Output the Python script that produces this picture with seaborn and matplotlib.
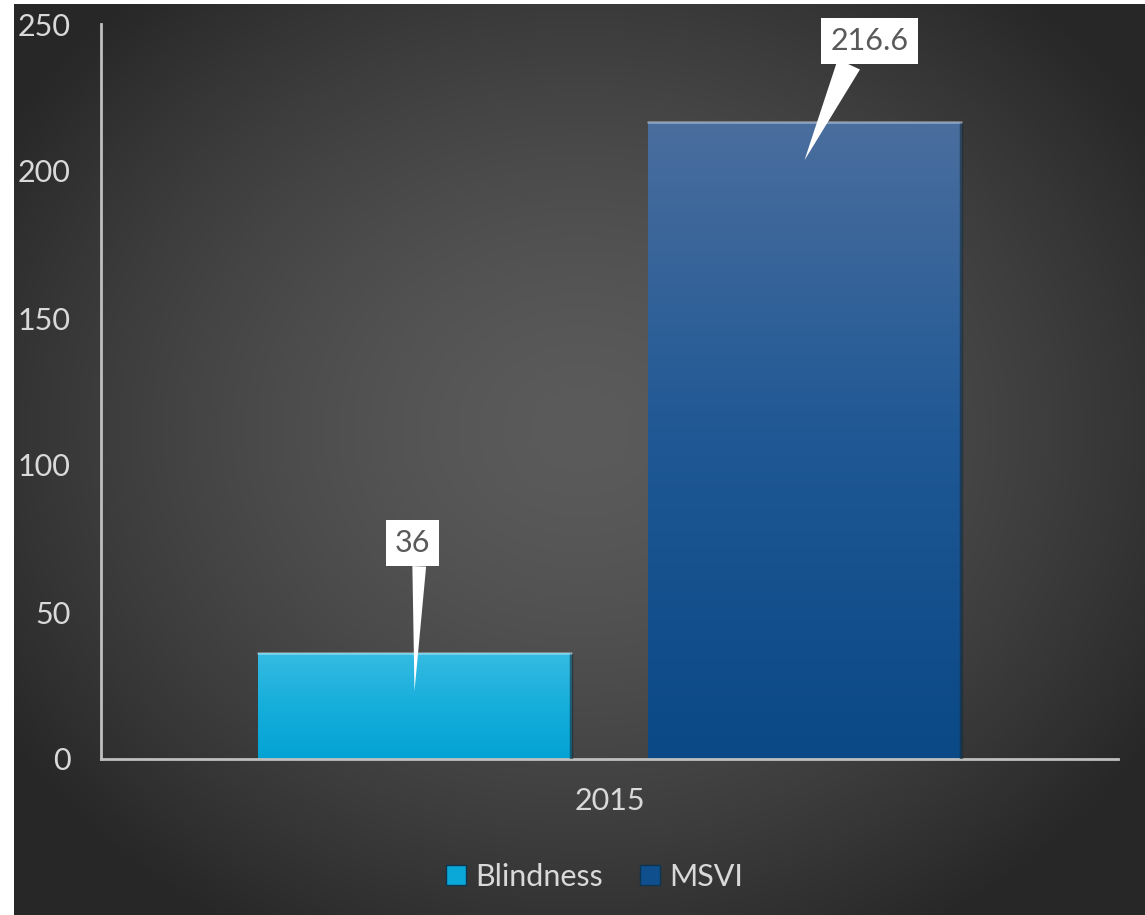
import numpy as np
import pandas as pd
import matplotlib
matplotlib.use("Agg")
import matplotlib.pyplot as plt
import matplotlib.transforms as mtransforms
from matplotlib.colors import LinearSegmentedColormap
from matplotlib.patches import Patch
import seaborn as sns

# ---- data ----
categories = ["2015"]
series = ["Blindness", "MSVI"]
values = [36, 216.6]
yticks = [0, 50, 100, 150, 200, 250]

sns.set_theme(style="white")
plt.rcParams["font.family"] = ["Lato", "DejaVu Sans"]

W, H = 1145, 915
fig = plt.figure(figsize=(W / 100, H / 100), dpi=100, facecolor="white")

# ---- radial gradient background ----
bg = fig.add_axes([14 / W, 0, 1 - 14 / W, (H - 4) / H], zorder=-10)
bw, bh = W - 14, H - 4
yy, xx = np.mgrid[0:bh, 0:bw]
cx, cy = 580 - 14, 430 - 4
r = np.sqrt(((xx - cx) / 680.0) ** 2 + ((yy - cy) / 580.0) ** 2)
t = np.clip(r, 0, 1) ** 1.5
c0, c1 = 0x5b / 255, 0x27 / 255
img = c0 + (c1 - c0) * t
bg.imshow(np.dstack([img, img, img]), aspect="auto", interpolation="bilinear")
bg.set_axis_off()

# ---- main axes ----
ax = fig.add_axes([101 / W, (H - 759) / H, (1118 - 101) / W, (759 - 24) / H])
ax.set_facecolor("none")

df = pd.DataFrame({"year": categories * len(series), "series": series, "value": values})
palette = ["#0aa8d8", "#0f4f8e"]
sns.barplot(data=df, x="year", y="value", hue="series", hue_order=series,
            palette=palette, width=0.767, gap=0.195, ax=ax, legend=False,
            edgecolor="none", saturation=1)

grads = [
    LinearSegmentedColormap.from_list("g0", ["#03a3d4", "#16aedb", "#35bbe2"]),
    LinearSegmentedColormap.from_list("g1", ["#0a4886", "#1f5894", "#4a6e9e"]),
]
bars = [p for p in ax.patches]
for i, p in enumerate(bars):
    x0, w, h = p.get_x(), p.get_width(), p.get_height()
    grad = np.linspace(0, 1, 256).reshape(-1, 1)
    im = ax.imshow(grad, extent=[x0, x0 + w, 0, h], origin="lower",
                   cmap=grads[i], aspect="auto", zorder=2)
    im.set_clip_path(p)
    p.set_zorder(1)
    ax.plot([x0 + w, x0 + w], [0, h], color="#1a2a33", lw=2.5, alpha=0.6, zorder=3,
            solid_capstyle="butt")
    ax.plot([x0, x0 + w], [h, h], color="white", lw=2, alpha=0.35, zorder=3)

ax.set_xlim(-0.5, 0.5)
ax.set_ylim(0, 250)
ax.set_yticks(yticks)
ax.set_xlabel("")
ax.set_ylabel("")

for s in ["top", "right"]:
    ax.spines[s].set_visible(False)
for s in ["left", "bottom"]:
    ax.spines[s].set_color("#bfbfbf")
    ax.spines[s].set_linewidth(2)
ax.tick_params(axis="both", length=0, labelsize=22, colors="#d9d9d9")
ax.tick_params(axis="y", pad=22)
ax.tick_params(axis="x", pad=20)

# ---- callout labels ----
offsets = [(-2, 148), (65, 119)]
relpos = [(0.70, 0.0), (0.29, 0.0)]
tails = [0.45, 0.8]
for i, p in enumerate(bars):
    xc = p.get_x() + p.get_width() / 2
    h = p.get_height()
    tip_tr = mtransforms.offset_copy(ax.transData, fig=fig, y=-38, units="dots")
    ax.annotate(f"{values[i]:g}", xy=(xc, h), xycoords=tip_tr,
                xytext=offsets[i], textcoords="offset pixels",
                ha="center", va="center", fontsize=22, color="#595959",
                bbox=dict(boxstyle="square,pad=0.3", fc="white", ec="none"),
                arrowprops=dict(arrowstyle=f"wedge,tail_width={tails[i]},shrink_factor=0.5",
                                fc="white", ec="none", relpos=relpos[i],
                                shrinkA=0, shrinkB=0),
                zorder=5)

# ---- legend ----
handles = [Patch(facecolor=palette[i], edgecolor="#0b3550", label=series[i]) for i in range(2)]
leg = fig.legend(handles=handles, loc="center", bbox_to_anchor=(594.5 / W, 38 / H),
                 ncol=2, frameon=False, fontsize=22, handlelength=0.65, handleheight=0.65,
                 handletextpad=0.3, columnspacing=1.2, labelcolor="#d9d9d9")

fig.savefig("out.png", dpi=100, facecolor="white")
